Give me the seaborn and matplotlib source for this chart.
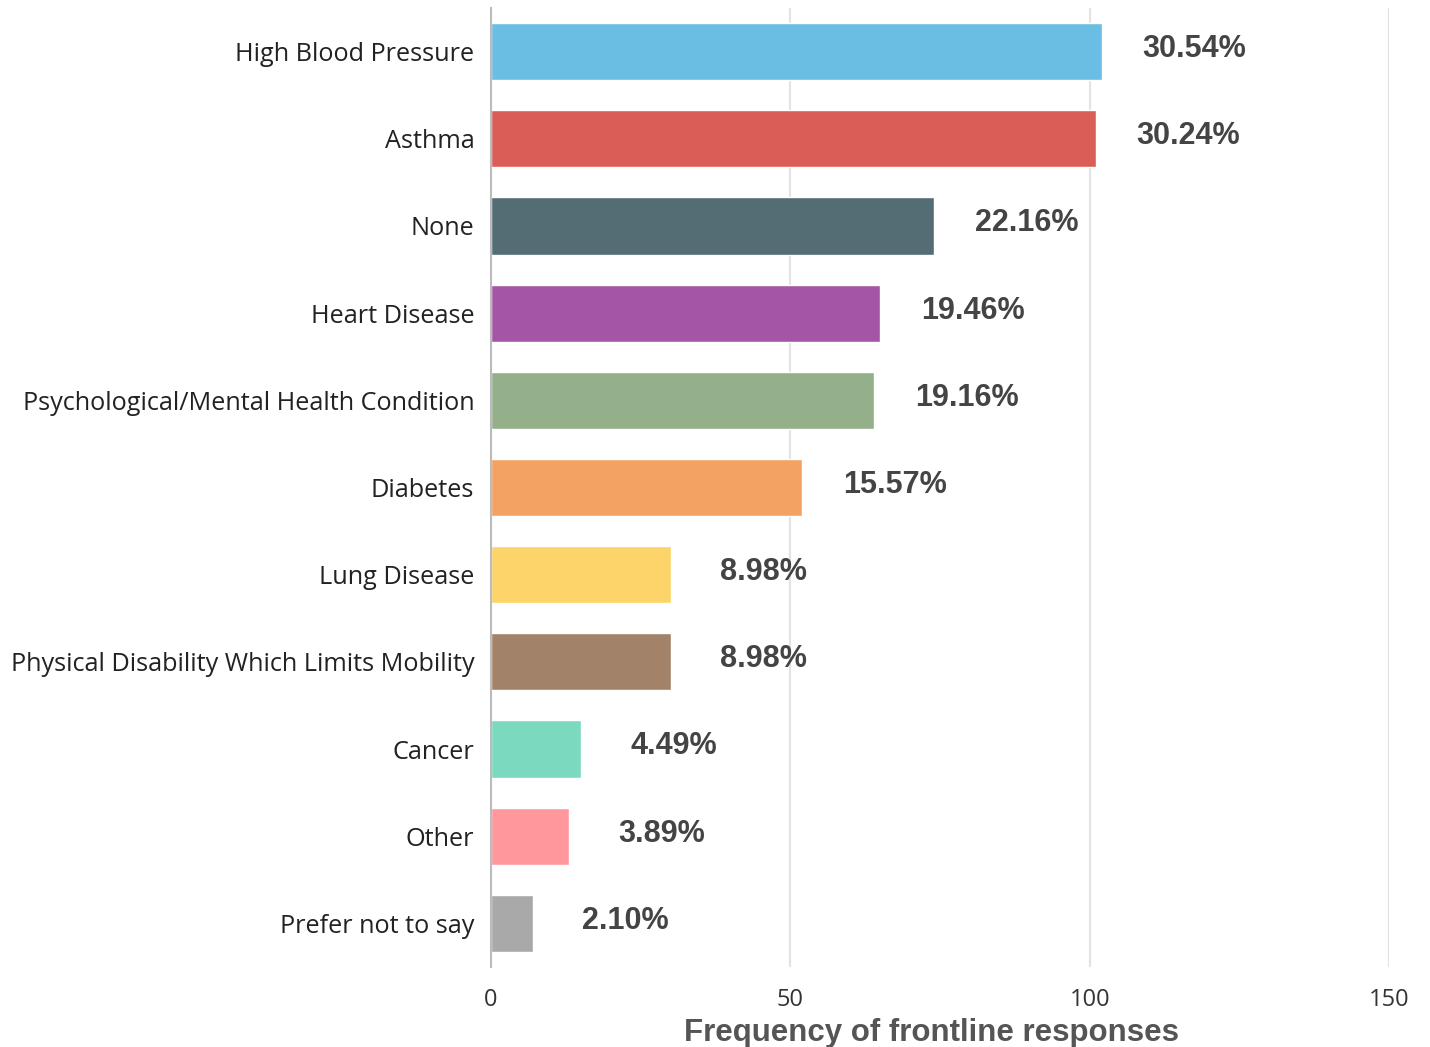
import matplotlib
matplotlib.use("Agg")
import matplotlib.pyplot as plt
import seaborn as sns
import pandas as pd

# Health conditions reported by frontline respondents (N = 334)
conditions = [
    "High Blood Pressure", "Asthma", "None", "Heart Disease",
    "Psychological/Mental Health Condition", "Diabetes", "Lung Disease",
    "Physical Disability Which Limits Mobility", "Cancer", "Other",
    "Prefer not to say",
]
counts = [102, 101, 74, 65, 64, 52, 30, 30, 15, 13, 7]
percent_labels = ["30.54%", "30.24%", "22.16%", "19.46%", "19.16%", "15.57%",
                  "8.98%", "8.98%", "4.49%", "3.89%", "2.10%"]
bar_colors = ["#6ABDE3", "#DA5D57", "#546D74", "#A555A6", "#94B08B", "#F4A263",
              "#FDD469", "#A2836A", "#7AD9BF", "#FF979D", "#A9A9A9"]
x_ticks = [0, 50, 100, 150]

df = pd.DataFrame({"condition": conditions, "count": counts})

sns.set_theme(style="white")
plt.rcParams["font.family"] = ["Open Sans", "DejaVu Sans"]

fig = plt.figure(figsize=(14.3, 10.47), dpi=100)
ax = fig.add_axes([491 / 1430, 1 - 967 / 1047, (1389 - 491) / 1430, (967 - 8) / 1047])

sns.barplot(data=df, x="count", y="condition", hue="condition",
            palette=bar_colors, legend=False, orient="h", width=0.655,
            saturation=1, ax=ax)

for i, (v, lab) in enumerate(zip(counts, percent_labels)):
    ax.text(v + 15.5, i - 0.03, lab, ha="center", va="center",
            fontsize=22, fontweight="bold", color="#444444",
            family=["Liberation Sans", "DejaVu Sans"])

ax.set_xlim(0, 150)
ax.set_ylim(len(conditions) - 0.5, -0.5)
ax.set_xticks(x_ticks)
ax.set_xticklabels([str(t) for t in x_ticks], fontsize=17, color="#333333")
ax.tick_params(axis="y", labelsize=18.2, colors="#222222", length=0, pad=12)
ax.tick_params(axis="x", length=0, pad=15)

ax.xaxis.grid(True, color="#E3E3E3", linewidth=1.5)
ax.set_axisbelow(True)
for s in ["top", "right", "bottom"]:
    ax.spines[s].set_visible(False)
ax.spines["left"].set_color("#BBBBBB")
ax.spines["left"].set_linewidth(1.5)

ax.set_ylabel("")
ax.set_xlabel("Frequency of frontline responses", fontsize=22.5, fontweight="bold",
              color="#555555", family=["Liberation Sans", "DejaVu Sans"], labelpad=0)
ax.xaxis.set_label_coords(0.49, -0.053)

fig.savefig("out.png", dpi=100)
